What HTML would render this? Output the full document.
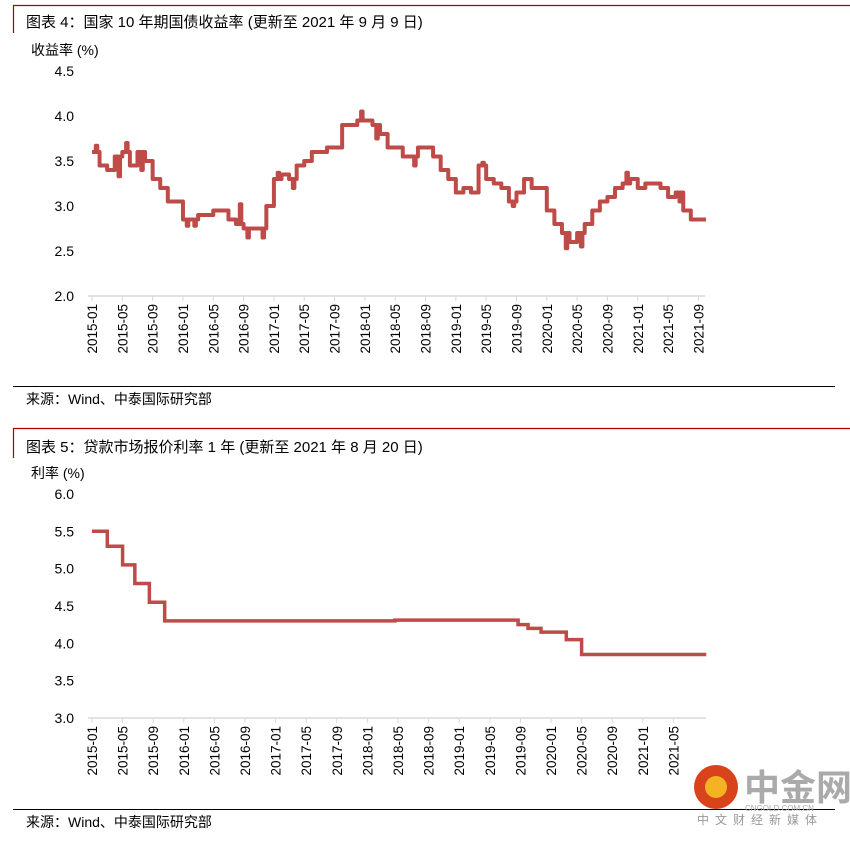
<!DOCTYPE html>
<html><head><meta charset="utf-8"><style>
body{margin:0;background:#fff;}
svg text{font-family:"Liberation Sans","Noto Sans CJK SC",sans-serif;fill:#000;}
</style></head><body>
<svg id="s" width="850" height="838" xmlns="http://www.w3.org/2000/svg">
<path d="M13.5,33 V5.5 H850" stroke="#a00" fill="none" stroke-width="1.2"/>
<text x="26" y="27" font-size="15">图表 4：国家 10 年期国债收益率 (更新至 2021 年 9 月 9 日)</text>
<text x="31" y="55" font-size="14">收益率 (%)</text>
<g id="c1"></g>
<line x1="13" y1="386.5" x2="835" y2="386.5" stroke="#000"/>
<text x="26" y="404" font-size="14">来源：Wind、中泰国际研究部</text>
<path d="M13.5,458 V428.5 H850" stroke="#a00" fill="none" stroke-width="1.2"/>
<text x="26" y="452" font-size="15">图表 5：贷款市场报价利率 1 年 (更新至 2021 年 8 月 20 日)</text>
<text x="31" y="478" font-size="14">利率 (%)</text>
<g id="c2"></g>
<line x1="13" y1="809.5" x2="835" y2="809.5" stroke="#000"/>
<text x="26" y="827" font-size="14">来源：Wind、中泰国际研究部</text>
<g>
<circle cx="716" cy="787" r="22" fill="#d8431c"/>
<circle cx="716" cy="787" r="11" fill="#f5b323"/>
<text x="744" y="800" font-size="36" font-weight="bold" style="fill:#aaa">中金网</text>
<text x="745" y="811" font-size="8" style="fill:#aaa">CNGOLD.COM.CN</text>
<text x="697" y="824" font-size="12" letter-spacing="6" style="fill:#999">中文财经新媒体</text>
</g>
</svg>
<script>
const ns="http://www.w3.org/2000/svg";
const ticks1=["2015-01","2015-05","2015-09","2016-01","2016-05","2016-09","2017-01","2017-05","2017-09","2018-01","2018-05","2018-09","2019-01","2019-05","2019-09","2020-01","2020-05","2020-09","2021-01","2021-05","2021-09"];
const yTicks1=[2.0,2.5,3.0,3.5,4.0,4.5];
const yields=[3.6,3.45,3.4,3.55,3.6,3.45,3.6,3.5,3.3,3.2,3.05,3.05,
2.85,2.85,2.9,2.9,2.95,2.95,2.85,2.8,2.75,2.75,2.75,3.0,
3.3,3.35,3.3,3.45,3.5,3.6,3.6,3.65,3.65,3.9,3.9,3.95,
3.95,3.9,3.8,3.65,3.65,3.55,3.55,3.65,3.65,3.55,3.4,3.3,
3.15,3.2,3.15,3.45,3.3,3.25,3.2,3.05,3.15,3.3,3.2,3.2,
2.95,2.8,2.7,2.6,2.7,2.8,2.95,3.05,3.1,3.2,3.25,3.3,
3.2,3.25,3.25,3.2,3.1,3.15,2.95,2.85,2.85];
const spikeMonths=[0,3,4,6,12,13,19,20,22,24,26,35,37,42,51,55,62,64,70,77];
const spikeValues=[3.67,3.33,3.7,3.4,2.78,2.78,3.02,2.65,2.65,3.37,3.2,4.05,3.75,3.45,3.48,3.0,2.53,2.55,3.37,3.05];
const ticks2=["2015-01","2015-05","2015-09","2016-01","2016-05","2016-09","2017-01","2017-05","2017-09","2018-01","2018-05","2018-09","2019-01","2019-05","2019-09","2020-01","2020-05","2020-09","2021-01","2021-05"];
const yTicks2=[3.0,3.5,4.0,4.5,5.0,5.5,6.0];
const lprMonths=[0,2,4,5.6,7.5,9.5,39.6,55.7,57,58.7,62,64,80.3];
const lprRates=[5.5,5.3,5.05,4.8,4.55,4.3,4.31,4.25,4.2,4.15,4.05,3.85,3.85];

function el(t,a,p){const e=document.createElementNS(ns,t);for(const k in a)e.setAttribute(k,a[k]);p.appendChild(e);return e;}
function axes(g,x,y,x0,x1,yBase,xt,yt,name){
  el('line',{x1:x0,y1:yBase,x2:x1,y2:yBase,stroke:'#d9d9d9','stroke-width':1.5},g);
  xt.forEach((t,i)=>{const px=x(i*4);
    const l=el('line',{x1:px,y1:yBase,x2:px,y2:yBase+5,stroke:'#d9d9d9'},g);
    
    const tx=el('text',{x:0,y:0,'font-size':13.5,'text-anchor':'end',transform:`translate(${px+5},${yBase+8}) rotate(-90)`},g);
    tx.textContent=t;
    
    });
  yt.forEach(v=>{const tx=el('text',{x:74,y:y(v)+5,'font-size':14,'text-anchor':'end'},g);tx.textContent=v.toFixed(1);
    
    });
}
// chart 1
const g1=document.getElementById('c1');
const x1=m=>92+m*7.58, y1=v=>296-(v-2)*90;
axes(g1,x1,y1,88,705,296,ticks1,yTicks1,'chart4');
let d='';
yields.forEach((v,i)=>{
  const k=spikeMonths.indexOf(i);
  d+=(i?'L':'M')+x1(i)+','+y1(v)+' ';
  if(k>=0){const sx=x1(i)+3.8;d+='L'+sx+','+y1(v)+' L'+sx+','+y1(spikeValues[k])+' L'+(sx+1.5)+','+y1(spikeValues[k])+' L'+(sx+1.5)+','+y1(v)+' ';}
  d+='L'+(x1(i)+7.58)+','+y1(v)+' ';});
const p1=el('path',{d:d,fill:'none',stroke:'#be4b48','stroke-width':4,'stroke-linejoin':'round'},g1);


// chart 2
const g2=document.getElementById('c2');
const x2=m=>92+m*7.65, y2=v=>718-(v-3)*74.7;
axes(g2,x2,y2,88,706,718,ticks2,yTicks2,'chart5');
let d2='';
lprMonths.forEach((m,i)=>{ if(i===0) d2+='M'+x2(m)+','+y2(lprRates[i]);
  else d2+=' H'+x2(m)+' V'+y2(lprRates[i]);});
const p2=el('path',{d:d2,fill:'none',stroke:'#be4b48','stroke-width':3.5},g2);


</script>
</body></html>
